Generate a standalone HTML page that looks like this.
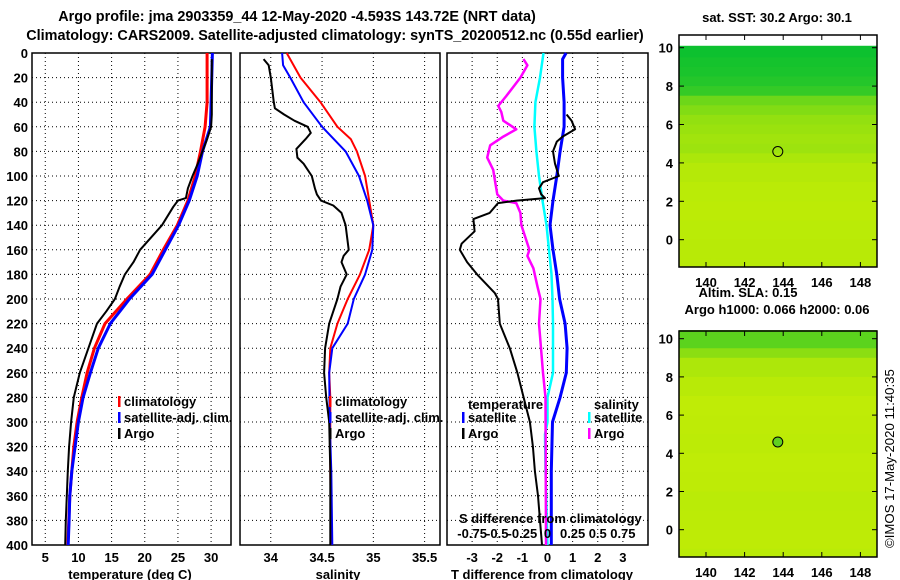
<!DOCTYPE html>
<html><head><meta charset="utf-8">
<style>
html,body{margin:0;padding:0;background:#fff;}
svg{display:block;font-family:"Liberation Sans",Arial,sans-serif;font-weight:bold;}
text{font-size:13px;fill:#000;}
.title{font-size:14.4px;}
</style></head>
<body>
<svg id="fig" width="900" height="580" viewBox="0 0 900 580" xmlns="http://www.w3.org/2000/svg">
  <text class="title" x="297" y="21" text-anchor="middle">Argo profile: jma 2903359_44 12-May-2020 -4.593S 143.72E (NRT data)</text>
  <text class="title" x="335" y="40" text-anchor="middle">Climatology: CARS2009. Satellite-adjusted climatology: synTS_20200512.nc (0.55d earlier)</text>
  <text x="777" y="22" text-anchor="middle">sat. SST: 30.2 Argo: 30.1</text>
  <text x="748" y="297" text-anchor="middle">Altim. SLA: 0.15</text>
  <text x="777" y="314" text-anchor="middle">Argo h1000: 0.066 h2000: 0.06</text>
  <text transform="translate(894,548) rotate(-90)" style="font-size:13.2px;font-weight:normal">©IMOS 17-May-2020 11:40:35</text>
  <text x="130" y="579" text-anchor="middle">temperature (deg C)</text>
  <text x="338" y="579" text-anchor="middle">salinity</text>
  <text x="542" y="579" text-anchor="middle">T difference from climatology</text>
  <g id="layer"></g>
</svg>
<script>
// ---- depth axis ----
const depthTicks = [0,20,40,60,80,100,120,140,160,180,200,220,240,260,280,300,320,340,360,380,400];
const tempTicks = [5,10,15,20,25,30];
const salTicks = [34,34.5,35,35.5];
const salTickLabels = ["34","34.5","35","35.5"];
const tdiffTicks = [-3,-2,-1,0,1,2,3];
const sdiffTicks = [-0.75,-0.5,-0.25,0,0.25,0.5,0.75];
const sdiffTickLabels = ["-0.75","-0.5","-0.25","0","0.25","0.5","0.75"];

// ---- temperature profiles ----
const tClimDepth = [0,40,60,80,100,120,140,160,180,200,220,240,260,280,300,320,340,360,380,400];
const tClimVal   = [29.4,29.4,29.1,28.4,27.6,26.5,24.9,22.8,20.8,17.3,14.0,12.4,11.3,10.5,9.8,9.3,9.0,8.7,8.55,8.4];
const tSatDepth  = [0,40,60,80,100,120,140,160,180,200,220,240,260,280,300,320,340,360,380,400];
const tSatVal    = [30.2,30.0,29.9,28.7,27.9,26.7,25.1,23.1,21.1,17.7,14.8,13.0,11.8,10.7,10.0,9.5,9.0,8.7,8.6,8.45];
const tArgoDepth = [5,50,60,70,80,90,100,110,118,120,125,140,160,170,180,190,200,210,220,240,260,280,300,320,340,360,380,400];
const tArgoVal   = [30.1,30.1,30.0,29.4,28.7,28.0,27.2,26.5,26.2,25.0,24.3,22.6,19.3,18.3,17.0,16.2,15.5,14.2,12.8,11.5,10.2,9.3,8.9,8.6,8.4,8.25,8.1,8.0];

// ---- salinity profiles ----
const sClimDepth = [0,20,40,60,70,80,100,120,140,160,180,200,220,240,260,280,340,400];
const sClimVal   = [34.155,34.29,34.485,34.65,34.78,34.84,34.92,34.96,35.0,34.96,34.87,34.75,34.65,34.58,34.57,34.58,34.58,34.59];
const sSatDepth  = [0,10,20,40,60,80,100,120,140,160,180,200,220,240,260,300,340,400];
const sSatVal    = [34.11,34.12,34.19,34.32,34.5,34.73,34.86,34.94,35.0,34.99,34.92,34.81,34.75,34.6,34.57,34.575,34.59,34.6];
const sArgoDepth = [5,10,20,40,45,50,55,60,65,70,78,85,90,100,110,115,120,124,130,140,160,165,170,180,190,200,220,240,260,280,300,340,400];
const sArgoVal   = [33.93,33.98,34.0,34.03,34.04,34.13,34.23,34.36,34.39,34.34,34.25,34.26,34.32,34.40,34.43,34.45,34.49,34.61,34.69,34.73,34.76,34.71,34.69,34.74,34.68,34.65,34.57,34.53,34.52,34.54,34.57,34.58,34.58];

// ---- difference profiles ----
const dTSatDepth = [0,5,20,40,60,80,100,120,140,160,180,200,220,240,260,280,300,340,400];
const dTSatVal   = [0.74,0.6,0.6,0.66,0.66,0.5,0.37,0.22,0.1,0.22,0.37,0.48,0.7,0.78,0.75,0.5,0.2,0.15,0.15];
const dTArgoDepth = [50,55,62,68,72,80,90,100,105,110,115,118,120,122,130,135,145,155,160,170,180,195,200,220,240,260,280,300,320,340,360,380,400];
const dTArgoVal   = [0.76,0.96,1.1,0.6,0.37,0.22,0.3,0.45,-0.18,-0.34,-0.25,-0.1,-1.23,-1.97,-2.3,-2.95,-2.9,-3.42,-3.49,-3.2,-2.8,-2.1,-1.97,-1.9,-1.5,-1.2,-0.95,-0.7,-0.58,-0.5,-0.38,-0.3,-0.22];
const dSSatDepth = [0,20,40,60,80,100,120,140,160,180,200,220,260,280,300,310,340,400];
const dSSatVal   = [-0.04,-0.075,-0.12,-0.13,-0.11,-0.085,-0.05,-0.01,0.015,0.04,0.05,0.055,0.055,0.0,0.0,-0.025,-0.02,0.0];
const dSArgoDepth = [5,10,20,35,43,48,55,62,68,75,85,95,105,115,120,122,130,140,160,165,175,190,200,220,240,260,280,400];
const dSArgoVal   = [-0.24,-0.2,-0.27,-0.41,-0.49,-0.46,-0.44,-0.31,-0.44,-0.57,-0.6,-0.54,-0.52,-0.5,-0.44,-0.31,-0.27,-0.26,-0.18,-0.2,-0.14,-0.1,-0.07,-0.085,-0.065,-0.045,-0.02,-0.015];

// ---- map data (band mean index 0=green .. 1=yellow) ----
const sstLat = [10.1,9.5,9.0,8.5,8.0,7.5,7.0,6.5,6.0,5.5,5.0,4.5,4.0,3.0,2.0,1.0,0.0,-1.0];
const sstVal = [0.05,0.08,0.1,0.14,0.2,0.42,0.5,0.6,0.64,0.68,0.66,0.74,0.8,0.83,0.84,0.83,0.82,0.82];
const slaLat = [10.45,9.5,9.0,8.0,7.0,6.0,5.0,4.0,3.0,2.0,1.0,0.0,-1.0];
const slaVal = [0.35,0.55,0.75,0.82,0.86,0.85,0.84,0.86,0.85,0.83,0.84,0.85,0.83];

const NS = "http://www.w3.org/2000/svg";
const layer = document.getElementById('layer');
function mk(tag, attrs, parent){ const e=document.createElementNS(NS,tag); for(const k in attrs) e.setAttribute(k,attrs[k]); (parent||layer).appendChild(e); return e; }

const yTop=53, yBot=545;
function yD(d){ return yTop + d*(yBot-yTop)/400; }
function xT(v){ return 32 + (v-3)/30*199; }
function xS(v){ return 240 + (v-33.7)/1.95*200; }
function xD(v){ return 447 + (v+4)/8*201; }
function xSD(s){ return xD(s*4); }

function panel(x0,x1,name,xticks,xfun,labels){
  const g = mk('g',{});
  
  
  depthTicks.slice(1,-1).forEach(d=>{
    const l = mk('line',{x1:x0,x2:x1,y1:yD(d),y2:yD(d),stroke:'#000','stroke-width':1,'stroke-dasharray':'1,3'},g);
    
    
  });
  xticks.forEach((v,i)=>{
    const l = mk('line',{x1:xfun(v),x2:xfun(v),y1:yTop,y2:yBot,stroke:'#000','stroke-width':1,'stroke-dasharray':'1,3'},g);
    
    
    const t = mk('text',{x:xfun(v),y:562,'text-anchor':'middle'},g);
    t.textContent = labels ? labels[i] : String(v);
    
    
  });
  const r = mk('rect',{x:x0,y:yTop,width:x1-x0,height:yBot-yTop,fill:'none',stroke:'#000','stroke-width':1.5},g);
  
  
  return g;
}
const p1 = panel(32,231,'temperature-panel',tempTicks,xT);
const p2 = panel(240,440,'salinity-panel',salTicks,xS,salTickLabels);
const p3 = panel(447,648,'difference-panel',tdiffTicks,xD);

depthTicks.forEach(d=>{
  const t = mk('text',{x:28,y:yD(d)+5,'text-anchor':'end'});
  t.textContent = String(d);
  
  
});

function series(depths, vals, xf, color, w, name, parent){
  const pts = depths.map((d,i)=> xf(vals[i]).toFixed(1)+','+yD(d).toFixed(1)).join(' ');
  const p = mk('polyline',{points:pts,fill:'none',stroke:color,'stroke-width':w,'stroke-linejoin':'round'},parent);
  
  
}
series(tClimDepth,tClimVal,xT,'#ff0000',3,'temperature-climatology-line',p1);
series(tSatDepth,tSatVal,xT,'#0000ff',3,'temperature-satellite-line',p1);
series(tArgoDepth,tArgoVal,xT,'#000',2,'temperature-argo-line',p1);
series(sClimDepth,sClimVal,xS,'#ff0000',2,'salinity-climatology-line',p2);
series(sSatDepth,sSatVal,xS,'#0000ff',2,'salinity-satellite-line',p2);
series(sArgoDepth,sArgoVal,xS,'#000',2,'salinity-argo-line',p2);
series(dSSatDepth,dSSatVal,xSD,'#00ffff',2.5,'s-diff-satellite-line',p3);
series(dSArgoDepth,dSArgoVal,xSD,'#ff00ff',2.5,'s-diff-argo-line',p3);
series(dTSatDepth,dTSatVal,xD,'#0000ff',3,'t-diff-satellite-line',p3);
series(dTArgoDepth,dTArgoVal,xD,'#000',2,'t-diff-argo-line',p3);

function legendEntry(mx, y, color, label, parent){
  const g = mk('g',{},parent);
  
  
  mk('rect',{x:mx-1,y:y-8,width:2.5,height:11,fill:color},g);
  const t = mk('text',{x:mx+5,y:y+2},g);
  t.textContent = label;
}
legendEntry(119,404,'#ff0000','climatology',p1);
legendEntry(119,420,'#0000ff','satellite-adj. clim.',p1);
legendEntry(119,436,'#000','Argo',p1);
legendEntry(330,404,'#ff0000','climatology',p2);
legendEntry(330,420,'#0000ff','satellite-adj. clim.',p2);
legendEntry(330,436,'#000','Argo',p2);
let tt = mk('text',{x:468,y:409},p3); tt.textContent='temperature';

tt = mk('text',{x:594,y:409},p3); tt.textContent='salinity';

legendEntry(463,420,'#0000ff','satellite',p3);
legendEntry(463,436,'#000','Argo',p3);
legendEntry(589,420,'#00ffff','satellite',p3);
legendEntry(589,436,'#ff00ff','Argo',p3);
tt = mk('text',{x:459,y:523},p3); tt.textContent='S difference from climatology';

sdiffTicks.forEach((s,i)=>{
  const t = mk('text',{x:xSD(s),y:538,'text-anchor':'middle'},p3);
  t.textContent = sdiffTickLabels[i];
  
  
});

// ---- maps ----
function col(t){
  const a=[0,190,50], m=[130,220,20], b=[215,242,0];
  let c;
  if(t<0.5){ const u=t/0.5; c=a.map((v,i)=>v+(m[i]-v)*u); }
  else { const u=(t-0.5)/0.5; c=m.map((v,i)=>v+(b[i]-v)*u); }
  return 'rgb('+c.map(Math.round).join(',')+')';
}
const mx0=679, mx1=877;
function lon2x(l){ return 706 + (l-140)*19.3; }
function map(name, yTopBox, yBotBox, lat2y, lats, vals, lonTicks, latTicks, labelY){
  const g = mk('g',{});
  
  
  for(let i=0;i<lats.length;i++){
    const y0 = lat2y(lats[i]);
    const y1 = i<lats.length-1 ? lat2y(lats[i+1]) : yBotBox;
    const r = mk('rect',{x:mx0,y:y0,width:mx1-mx0,height:Math.max(0,y1-y0)+0.5,fill:col(vals[i])},g);
    
    
  }
  const f = mk('rect',{x:mx0,y:yTopBox,width:mx1-mx0,height:yBotBox-yTopBox,fill:'none',stroke:'#000','stroke-width':1.5},g);
  
  lonTicks.forEach(l=>{
    mk('line',{x1:lon2x(l),x2:lon2x(l),y1:yBotBox,y2:yBotBox-5,stroke:'#000'},g);
    mk('line',{x1:lon2x(l),x2:lon2x(l),y1:yTopBox,y2:yTopBox+5,stroke:'#000'},g);
    const t = mk('text',{x:lon2x(l),y:labelY,'text-anchor':'middle'},g);
    t.textContent = String(l);
    
  });
  latTicks.forEach(l=>{
    mk('line',{x1:mx0,x2:mx0+5,y1:lat2y(l),y2:lat2y(l),stroke:'#000'},g);
    mk('line',{x1:mx1,x2:mx1-5,y1:lat2y(l),y2:lat2y(l),stroke:'#000'},g);
    const t = mk('text',{x:673,y:lat2y(l)+5,'text-anchor':'end'},g);
    t.textContent = String(l);
    
  });
  const c = mk('circle',{cx:lon2x(143.72),cy:lat2y(4.593),r:5,fill:'none',stroke:'#000','stroke-width':1},g);
  
  
  return c;
}
const lonTicks=[140,142,144,146,148], latTicks=[10,8,6,4,2,0];
map('sst-map',35,267,l=>239.7-l*19.2,sstLat,sstVal,lonTicks,latTicks,287);
const c2 = map('sla-map',331,557,l=>529.7-l*19.1,slaLat,slaVal,lonTicks,latTicks,577);
c2.setAttribute('fill','#60d020');
</script>
</body></html>
